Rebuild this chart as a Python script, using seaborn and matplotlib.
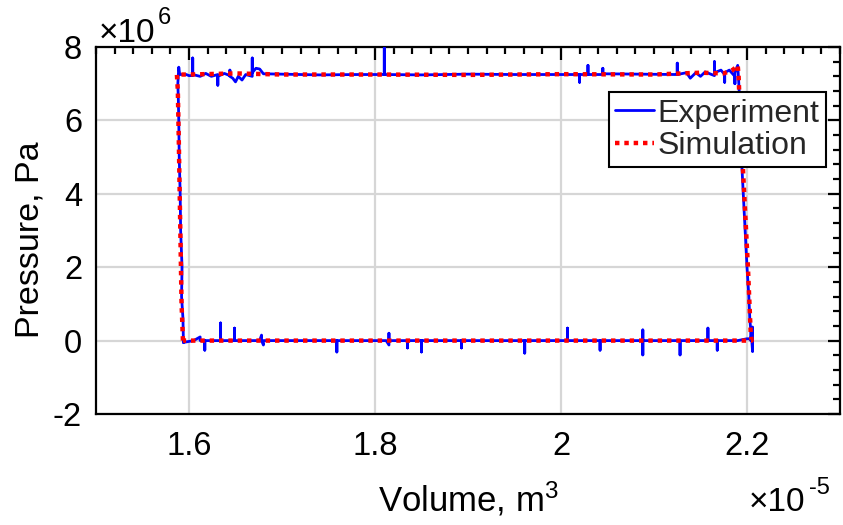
import matplotlib
matplotlib.use("Agg")
import matplotlib.pyplot as plt
import seaborn as sns
import pandas as pd
from matplotlib.ticker import MultipleLocator, FuncFormatter

# Volume in units of 1e-5 m^3, pressure in units of 1e6 Pa.
# Measured loop, split into its four strokes.
exp_left_v = [1.594, 1.5935, 1.592, 1.5925, 1.591, 1.5905,
              1.5895, 1.589, 1.5885, 1.588, 1.589, 1.590]
exp_left_p = [-0.05, 0.6, 1.2, 2.0, 3.0, 4.0,
              5.0, 6.0, 6.6, 7.0, 7.45, 7.25]

exp_top_v = [1.597, 1.600, 1.604, 1.604, 1.604, 1.612,
             1.618, 1.624, 1.631, 1.631, 1.631, 1.638,
             1.644, 1.644, 1.644, 1.647, 1.650, 1.653,
             1.657, 1.661, 1.668, 1.668, 1.668, 1.672,
             1.676, 1.680, 1.70, 1.74, 1.78, 1.810,
             1.810, 1.810, 1.85, 1.90, 1.95, 2.00,
             2.020, 2.020, 2.020, 2.029, 2.029, 2.029,
             2.045, 2.045, 2.045, 2.08, 2.125, 2.125,
             2.125, 2.135, 2.139, 2.145, 2.150, 2.155,
             2.165, 2.165, 2.165, 2.172, 2.176, 2.176,
             2.176, 2.181, 2.187, 2.187, 2.187, 2.190,
             2.191]
exp_top_p = [7.25, 7.22, 7.22, 7.7, 7.25, 7.2,
             7.28, 7.2, 7.25, 6.96, 7.2, 7.28,
             7.22, 7.37, 7.2, 7.15, 7.05, 7.2,
             7.1, 7.25, 7.2, 7.7, 7.3, 7.42,
             7.4, 7.27, 7.26, 7.24, 7.25, 7.25,
             7.97, 7.25, 7.24, 7.26, 7.25, 7.25,
             7.25, 7.04, 7.25, 7.25, 7.5, 7.25,
             7.25, 7.42, 7.27, 7.26, 7.25, 7.56,
             7.25, 7.3, 7.15, 7.3, 7.2, 7.32,
             7.22, 7.6, 7.3, 7.37, 7.25, 7.04,
             7.3, 7.37, 7.2, 7.0, 7.3, 7.5,
             7.1]

exp_right_v = [2.192, 2.193, 2.194, 2.196, 2.198, 2.200,
               2.202, 2.203, 2.204, 2.204, 2.206, 2.206,
               2.205]
exp_right_p = [6.6, 6.0, 5.0, 4.0, 3.0, 2.0,
               1.2, 0.6, 0.3, 0.0, 0.37, -0.3,
               0.05]

exp_bottom_v = [2.200, 2.190, 2.170, 2.168, 2.168, 2.168,
                2.158, 2.158, 2.158, 2.140, 2.128, 2.128,
                2.128, 2.110, 2.088, 2.088, 2.088, 2.088,
                2.070, 2.042, 2.042, 2.042, 2.020, 2.007,
                2.007, 2.007, 1.990, 1.961, 1.961, 1.961,
                1.930, 1.893, 1.893, 1.893, 1.870, 1.850,
                1.850, 1.850, 1.835, 1.835, 1.835, 1.815,
                1.815, 1.815, 1.812, 1.759, 1.759, 1.759,
                1.730, 1.700, 1.680, 1.680, 1.678, 1.678,
                1.676, 1.649, 1.649, 1.649, 1.640, 1.634,
                1.634, 1.634, 1.625, 1.617, 1.617, 1.617,
                1.612, 1.612, 1.605, 1.594]
exp_bottom_p = [0.05, 0.0, 0.0, 0.0, -0.26, 0.0,
                0.0, 0.34, 0.0, 0.0, 0.0, -0.39,
                0.0, 0.0, 0.0, 0.29, -0.39, 0.0,
                0.0, 0.0, -0.26, 0.0, 0.0, 0.0,
                0.34, 0.0, 0.0, 0.0, -0.34, 0.0,
                0.0, 0.0, -0.2, 0.0, 0.0, 0.0,
                -0.31, 0.0, 0.0, -0.2, 0.0, 0.0,
                0.2, -0.12, 0.0, 0.0, -0.31, 0.0,
                0.0, 0.0, 0.0, -0.12, 0.0, 0.15,
                0.0, 0.0, 0.34, 0.0, 0.0, 0.0,
                0.48, 0.0, 0.0, 0.0, -0.26, 0.0,
                0.0, 0.1, 0.0, -0.05]

sim_volume = [1.5935, 1.592, 1.591, 1.590, 1.589, 1.588,
              1.587, 1.60, 1.65, 1.70, 1.80, 1.90,
              2.00, 2.10, 2.15, 2.175, 2.185, 2.190,
              2.191, 2.192, 2.195, 2.198, 2.201, 2.203,
              2.204, 2.205, 2.15, 2.00, 1.80, 1.60,
              1.5935]
sim_pressure = [0.0, 1.0, 2.5, 4.0, 5.5, 6.8,
                7.25, 7.25, 7.28, 7.25, 7.25, 7.24,
                7.26, 7.25, 7.3, 7.28, 7.38, 7.5,
                7.2, 6.5, 5.0, 3.5, 2.0, 0.8,
                0.2, 0.0, 0.0, 0.0, 0.0, 0.0,
                0.0]

series_names = ["Experiment", "Simulation"]
x_ticks = [1.6, 1.8, 2.0, 2.2]
y_ticks = [-2, 0, 2, 4, 6, 8]

exp_df = pd.DataFrame({
    "volume": exp_left_v + exp_top_v + exp_right_v + exp_bottom_v,
    "pressure": exp_left_p + exp_top_p + exp_right_p + exp_bottom_p,
})
sim_df = pd.DataFrame({"volume": sim_volume, "pressure": sim_pressure})

sns.set_theme(style="white")
plt.rcParams["font.family"] = ["Liberation Sans", "DejaVu Sans"]
plt.rcParams["mathtext.fontset"] = "custom"
plt.rcParams["mathtext.rm"] = "Liberation Sans"
plt.rcParams["mathtext.it"] = "Liberation Sans"

fig = plt.figure(figsize=(8.43, 5.25), dpi=100)
ax = fig.add_axes([96 / 843, 1 - 414 / 525, 744 / 843, 367 / 525])

sns.lineplot(data=exp_df, x="volume", y="pressure", sort=False, estimator=None,
             color=(0, 0, 1), lw=2.0, label=series_names[0], ax=ax, zorder=3)
sns.lineplot(data=sim_df, x="volume", y="pressure", sort=False, estimator=None,
             color=(1, 0, 0), lw=3.2, ls=(0, (1, 1.1)), label=series_names[1],
             ax=ax, zorder=4)
ax.lines[-1].set_dash_capstyle("butt")

ax.set_xlim(1.5, 2.3)
ax.set_ylim(-2, 8)
ax.set_xticks(x_ticks)
ax.set_yticks(y_ticks)
ax.xaxis.set_minor_locator(MultipleLocator(0.02))
ax.yaxis.set_minor_locator(MultipleLocator(0.4))
fmt = FuncFormatter(lambda v, p: "%g" % round(v, 6))
ax.xaxis.set_major_formatter(fmt)
ax.yaxis.set_major_formatter(fmt)

ax.grid(True, which="major", color="#d6d6d6", lw=1.6)
ax.set_axisbelow(True)
for s in ax.spines.values():
    s.set_visible(True)
    s.set_color("black")
    s.set_linewidth(1.6)

ax.tick_params(which="both", direction="in", top=True, right=True,
               colors="black", labelsize=23.5, width=1.6)
ax.tick_params(which="major", length=9)
ax.tick_params(axis="x", which="major", pad=12)
ax.tick_params(axis="y", which="major", pad=10)
ax.tick_params(which="minor", length=5)

ax.set_xlabel("Volume, m$^3$", fontsize=25, color="black", labelpad=13)
ax.set_ylabel("Pressure, Pa", fontsize=24.5, color="black")
ax.yaxis.set_label_coords(-0.068, 0.474)

# exponent annotations for both axes
fig.text(99 / 843, 1 - 42 / 525, "\u00d710", fontsize=24, color="black",
         ha="left", va="baseline")
fig.text(158 / 843, 1 - 24 / 525, "6", fontsize=17, color="black",
         ha="left", va="baseline")
fig.text(749 / 843, 1 - 511 / 525, "\u00d710", fontsize=24, color="black",
         ha="left", va="baseline")
fig.text(809 / 843, 1 - 494 / 525, "-5", fontsize=17, color="black",
         ha="left", va="baseline")

leg = ax.legend(loc="upper right", bbox_to_anchor=(0.981, 0.877), fontsize=23,
                frameon=True, fancybox=False, framealpha=1, edgecolor="black",
                handlelength=1.2, handletextpad=0.12, borderpad=0.2,
                labelspacing=0.08, borderaxespad=0)
leg.get_frame().set_linewidth(1.5)

fig.savefig("out.png", dpi=100, facecolor="white")
